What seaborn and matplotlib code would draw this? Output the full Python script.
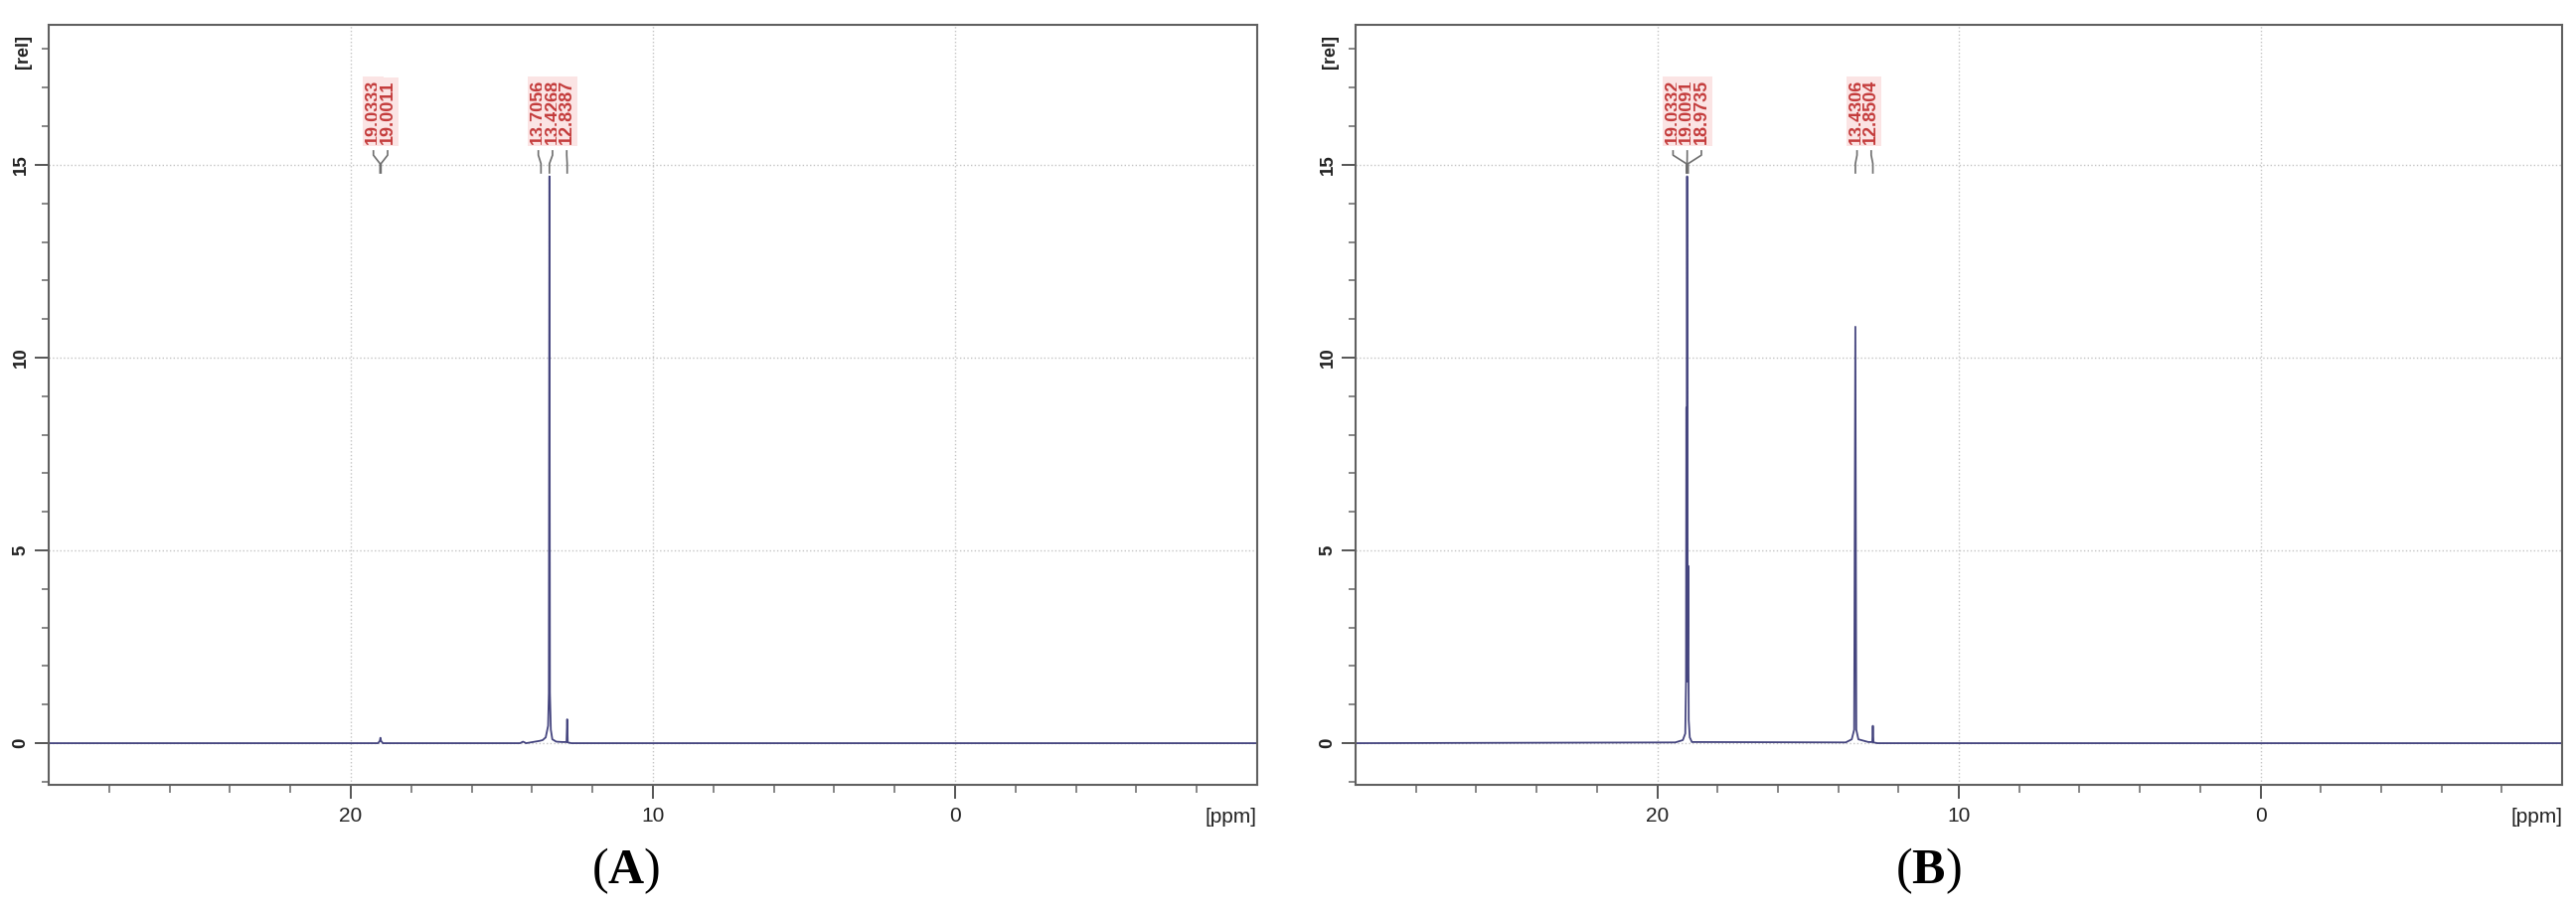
import numpy as np
import pandas as pd
import matplotlib
matplotlib.use("Agg")
import matplotlib.pyplot as plt
import seaborn as sns

# ---------------- data ----------------
# Spectrum A: trace points (ppm, relative intensity)
a_ppm = [30.0, 19.10, 19.04, 19.02, 19.00, 18.94, 14.40, 14.30, 14.20, 13.75, 13.65,
         13.55, 13.47, 13.445, 13.4268, 13.41, 13.38, 13.33, 13.20, 13.00, 12.86,
         12.8387, 12.82, 12.70, -10.0]
a_int = [0.0, 0.0, 0.06, 0.14, 0.06, 0.0, 0.0, 0.04, 0.0, 0.06, 0.08,
         0.15, 0.45, 1.30, 14.7, 1.30, 0.35, 0.10, 0.04, 0.03, 0.03,
         0.62, 0.02, 0.0, 0.0]

# Spectrum B: trace points
b_ppm = [30.0, 19.40, 19.15, 19.07, 19.045, 19.0332, 19.022, 19.0091, 18.995, 18.9735,
         18.955, 18.92, 18.85, 13.75, 13.55, 13.47, 13.4306, 13.40, 13.33, 13.00,
         12.87, 12.8504, 12.83, 12.70, -10.0]
b_int = [0.0, 0.02, 0.08, 0.25, 1.60, 8.70, 1.60, 14.7, 1.60, 4.60,
         0.60, 0.15, 0.03, 0.02, 0.10, 0.35, 10.8, 0.35, 0.10, 0.03,
         0.03, 0.45, 0.02, 0.0, 0.0]

# Peak-picking labels
a_groups = [[19.0333, 19.0011], [13.7056, 13.4268, 12.8387]]
b_groups = [[19.0332, 19.0091, 18.9735], [13.4306, 12.8504]]

x_major = [20, 10, 0]
x_labels = ["20", "10", "0"]
y_major = [0, 5, 10, 15]
y_labels = ["0", "5", "10", "15"]
panel_names = ["A", "B"]

# ---------------- style ----------------
sns.set_theme(style="white")
plt.rcParams["font.family"] = ["Liberation Sans", "DejaVu Sans"]
plt.rcParams["mathtext.fontset"] = "custom"
plt.rcParams["mathtext.rm"] = "Liberation Serif"
plt.rcParams["mathtext.bf"] = "Liberation Serif:bold"

W, H = 2592, 916
fig = plt.figure(figsize=(W / 100, H / 100), dpi=100)
fig.patch.set_facecolor("white")

ax_a = fig.add_axes([49 / W, (H - 790) / H, (1265 - 49) / W, (790 - 25) / H])
ax_b = fig.add_axes([1364 / W, (H - 790) / H, (2578 - 1364) / W, (790 - 25) / H])

trace_color = "#45457f"
label_color = "#c43c3c"
conn_color = "#6e6e6e"


def draw_panel(ax, ppm, inten, groups, name, label_x_fig):
    df = pd.DataFrame({"ppm": ppm, "rel": inten})
    sns.lineplot(data=df, x="ppm", y="rel", sort=False, estimator=None,
                 color=trace_color, lw=1.3, ax=ax)
    ax.set_xlim(30, -10)
    ax.set_ylim(-1.08, 18.63)
    ax.set_xlabel("")
    ax.set_ylabel("")

    ax.set_xticks(x_major)
    ax.set_xticklabels(x_labels, fontsize=15, color="#222222")
    ax.set_xticks(np.arange(28, -10, -2), minor=True)
    ax.set_yticks(y_major)
    ax.set_yticklabels(y_labels, fontsize=13.5, fontweight="bold", rotation=90,
                       va="center", color="#222222")
    ax.set_yticks(np.arange(-1, 19, 1), minor=True)
    ax.tick_params(axis="both", which="both", bottom=True, left=True,
                   top=False, right=False)
    ax.tick_params(axis="both", which="major", direction="out", length=10,
                   width=1.4, color="#555555")
    ax.tick_params(axis="both", which="minor", direction="out", length=6,
                   width=1.1, color="#666666")
    ax.tick_params(axis="y", which="minor", length=5)
    ax.tick_params(axis="x", which="major", pad=6)
    ax.tick_params(axis="y", which="major", pad=4)

    ax.grid(True, which="major", linestyle=":", color="#c4c4c4", lw=1.0)
    for s in ax.spines.values():
        s.set_visible(True)
        s.set_color("#606060")
        s.set_linewidth(1.5)

    ax.text(1.0, -0.03, "[ppm]", transform=ax.transAxes, ha="right", va="top",
            fontsize=15, color="#222222")
    ax.text(-0.021, 0.965, "[rel]", transform=ax.transAxes, ha="center",
            va="center", rotation=90, fontsize=13, fontweight="bold",
            color="#222222")

    # peak labels with Bruker-style connectors
    spacing = 0.47
    for grp in groups:
        centre = np.mean(grp)
        n = len(grp)
        for i, p in enumerate(grp):
            lx = centre + spacing * ((n - 1) / 2 - i)
            ax.text(lx, 15.55, f"{p:.4f}", rotation=90, ha="center", va="bottom",
                    fontsize=13, fontweight="bold", color=label_color,
                    bbox=dict(boxstyle="square,pad=0.12", fc="#fbe4e4", ec="none"))
            ax.plot([lx, lx, p, p], [15.38, 15.25, 15.03, 14.77],
                    color=conn_color, lw=1.2, solid_capstyle="butt")

    fig.text(label_x_fig, 1 - 877 / H, r"($\mathbf{" + name + r"}$)",
             ha="center", va="center", fontsize=36, family="Liberation Serif",
             color="black")


draw_panel(ax_a, a_ppm, a_int, a_groups, panel_names[0], 630 / W)
draw_panel(ax_b, b_ppm, b_int, b_groups, panel_names[1], 1940 / W)

fig.savefig("out.png", dpi=100, facecolor="white")
